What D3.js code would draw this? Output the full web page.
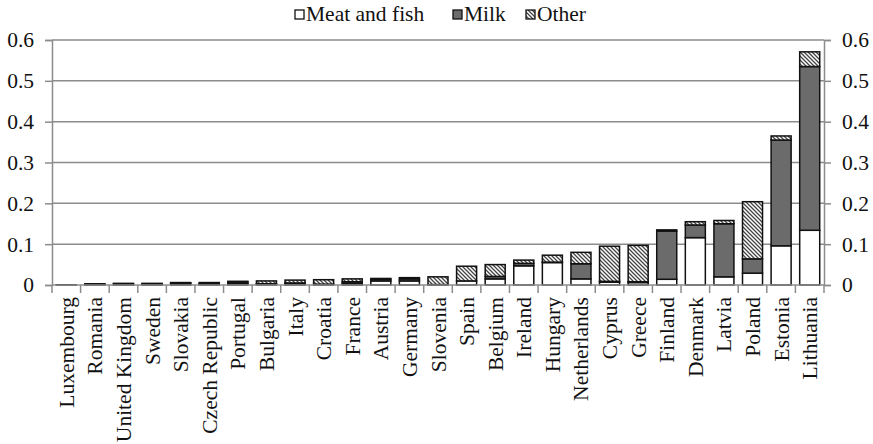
<!DOCTYPE html>
<html>
<head>
<meta charset="utf-8">
<script src="https://cdn.jsdelivr.net/npm/d3@7"></script>
<style>
  body { margin: 0; background: #fff; }
  text { font-family: "Liberation Serif", "Times New Roman", serif; fill: #111; }
</style>
</head>
<body>
<script>
var countries = ["Luxembourg", "Romania", "United Kingdom", "Sweden", "Slovakia", "Czech Republic",
  "Portugal", "Bulgaria", "Italy", "Croatia", "France", "Austria", "Germany", "Slovenia", "Spain",
  "Belgium", "Ireland", "Hungary", "Netherlands", "Cyprus", "Greece", "Finland", "Denmark", "Latvia",
  "Poland", "Estonia", "Lithuania"];
var meatFish = [0.0005, 0.002, 0.003, 0.002, 0.003, 0.002, 0.004, 0.002, 0.004, 0.002, 0.004, 0.010, 0.010,
  0.001, 0.010, 0.015, 0.047, 0.055, 0.015, 0.007, 0.006, 0.014, 0.116, 0.020, 0.029, 0.096, 0.134];
var milk = [0, 0.001, 0.001, 0.001, 0.002, 0.002, 0.004, 0.001, 0.001, 0, 0.004, 0.004, 0.005,
  0, 0, 0.006, 0.006, 0.001, 0.037, 0.002, 0.002, 0.118, 0.031, 0.130, 0.035, 0.259, 0.401];
var other = [0, 0, 0, 0.001, 0.001, 0.002, 0.001, 0.007, 0.007, 0.011, 0.007, 0.002, 0.003,
  0.019, 0.036, 0.029, 0.008, 0.017, 0.028, 0.086, 0.089, 0.003, 0.008, 0.008, 0.140, 0.010, 0.036];
var seriesNames = ["Meat and fish", "Milk", "Other"];
var yTicks = [0, 0.1, 0.2, 0.3, 0.4, 0.5, 0.6];

var width = 873, height = 444;
var margin = { left: 52, right: 49, top: 40, bottom: 159 };
var fontFam = "'Liberation Serif', 'Times New Roman', serif";

var svg = d3.select("body").append("svg")
  .attr("width", width)
  .attr("height", height);

var defs = svg.append("defs");
var pat = defs.append("pattern")
  .attr("id", "hatch")
  .attr("patternUnits", "userSpaceOnUse")
  .attr("width", 4)
  .attr("height", 4);
pat.append("rect").attr("width", 4).attr("height", 4).attr("fill", "#fff");
pat.append("path")
  .attr("d", "M-1,-1 L5,5 M3,-1 L5,1 M-1,3 L1,5")
  .attr("stroke", "#444")
  .attr("stroke-width", 1.3);

var fills = ["#ffffff", "#6b6b6b", "url(#hatch)"];

var rows = countries.map(function(c, i) {
  return { country: c, m: meatFish[i], k: milk[i], o: other[i] };
});

var x = d3.scaleBand()
  .domain(countries)
  .range([margin.left, width - margin.right])
  .paddingInner(0.3)
  .paddingOuter(0.15);

var y = d3.scaleLinear()
  .domain([0, 0.6])
  .range([height - margin.bottom, margin.top]);

// gridlines
svg.append("g")
  .selectAll("line")
  .data(yTicks.slice(1))
  .enter()
  .append("line")
  .attr("x1", margin.left)
  .attr("x2", width - margin.right)
  .attr("y1", function(d) { return y(d); })
  .attr("y2", function(d) { return y(d); })
  .attr("stroke", "#8c8c8c")
  .attr("stroke-width", 1.5);

// left and right axes
var fmt = function(d) { return d === 0 ? "0" : d3.format(".1f")(d); };
var leftAxis = svg.append("g")
  .attr("transform", "translate(" + margin.left + ",0)")
  .call(d3.axisLeft(y).tickValues(yTicks).tickSize(7).tickPadding(11).tickFormat(fmt));
var rightAxis = svg.append("g")
  .attr("transform", "translate(" + (width - margin.right) + ",0)")
  .call(d3.axisRight(y).tickValues(yTicks).tickSize(7).tickPadding(11).tickFormat(fmt));
[leftAxis, rightAxis].forEach(function(a) {
  a.attr("font-family", null).attr("font-size", null);
  a.select(".domain").attr("stroke", "#8c8c8c").attr("stroke-width", 1.5);
  a.selectAll(".tick line").attr("stroke", "#8c8c8c").attr("stroke-width", 1.5);
  a.selectAll(".tick text").style("font-family", fontFam).style("font-size", "21.5px").attr("fill", "#111");
});

// stacked bars
var stack = d3.stack().keys(["m", "k", "o"]);
var layers = stack(rows);

svg.append("g")
  .selectAll("g")
  .data(layers)
  .enter()
  .append("g")
  .attr("fill", function(d, i) { return fills[i]; })
  .selectAll("rect")
  .data(function(d) { return d; })
  .enter()
  .append("rect")
  .attr("x", function(d) { return x(d.data.country); })
  .attr("width", x.bandwidth())
  .attr("y", function(d) { return y(d[1]); })
  .attr("height", function(d) { return Math.max(0, y(d[0]) - y(d[1])); })
  .attr("stroke", "#111")
  .attr("stroke-width", 1.5);

// bottom axis
var step = x.step();
var bottom = svg.append("g");
bottom.append("line")
  .attr("x1", margin.left)
  .attr("x2", width - margin.right)
  .attr("y1", y(0))
  .attr("y2", y(0))
  .attr("stroke", "#8c8c8c")
  .attr("stroke-width", 1.5);
bottom.selectAll("line.tk")
  .data(d3.range(countries.length + 1))
  .enter()
  .append("line")
  .attr("class", "tk")
  .attr("x1", function(i) { return margin.left + i * step; })
  .attr("x2", function(i) { return margin.left + i * step; })
  .attr("y1", y(0))
  .attr("y2", y(0) + 8)
  .attr("stroke", "#8c8c8c")
  .attr("stroke-width", 1.5);
bottom.selectAll("text")
  .data(countries)
  .enter()
  .append("text")
  .attr("transform", function(d) {
    return "translate(" + (x(d) + x.bandwidth() / 2) + "," + (y(0) + 12) + ") rotate(-90)";
  })
  .attr("text-anchor", "end")
  .attr("dy", "0.35em")
  .style("font-family", fontFam)
  .style("font-size", "21.5px")
  .text(function(d) { return d; });

// legend
var legendX = [295, 453, 526];
var legend = svg.append("g")
  .selectAll("g")
  .data(seriesNames)
  .enter()
  .append("g")
  .attr("transform", function(d, i) { return "translate(" + legendX[i] + ",0)"; });
legend.append("rect")
  .attr("x", 0)
  .attr("y", 10)
  .attr("width", 9)
  .attr("height", 9)
  .attr("fill", function(d, i) { return fills[i]; })
  .attr("stroke", "#111")
  .attr("stroke-width", 1.3);
legend.append("text")
  .attr("x", 11)
  .attr("y", 21)
  .style("font-family", fontFam)
  .style("font-size", "21.5px")
  .text(function(d) { return d; });
</script>
</body>
</html>
